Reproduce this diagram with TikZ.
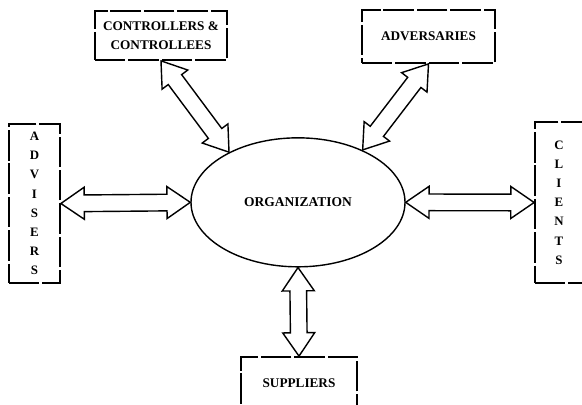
\documentclass[tikz,border=0pt]{standalone}
\usepackage{fontspec}
\setmainfont{Liberation Serif}
\usepackage{tikz}
\usetikzlibrary{shapes.geometric,calc}

% hollow two-headed arrow between two points
\newcommand{\hl}{0.70cm}
\newcommand{\hw}{0.48cm}
\newcommand{\sw}{0.25cm}
\newcommand{\twoway}[2]{%
  \draw[flowline] let \p1=($(#2)-(#1)$), \n1={atan2(\y1,\x1)}, \n2={veclen(\x1,\y1)} in
    [shift={(#1)}, rotate=\n1]
    (0,0) -- (\hl,\hw) -- (\hl,\sw) -- ({\n2*1pt-\hl},\sw) -- ({\n2*1pt-\hl},\hw)
    -- ({\n2*1pt},0) -- ({\n2*1pt-\hl},-\hw) -- ({\n2*1pt-\hl},-\sw)
    -- (\hl,-\sw) -- (\hl,-\hw) -- cycle;}

\tikzset{
  party/.style={draw, line width=1.5pt, dash pattern=on 26pt off 2.5pt,
    font=\bfseries\fontsize{11.3}{16}\selectfont, align=center, inner sep=0pt},
  upright/.style={party, font=\bfseries\fontsize{11}{16.4}\selectfont},
  flowline/.style={line width=1.2pt, line join=miter}
}

\begin{document}
\begin{tikzpicture}
  \useasboundingbox (0,0) rectangle (17.46,12.15);

  % Organization
  \node[draw, ellipse, line width=1.2pt, minimum width=6.42cm, minimum height=3.87cm,
    font=\bfseries\fontsize{11.5}{12}\selectfont] (org) at (8.94,6.08) {ORGANIZATION};

  % Surrounding parties
  \node[party, minimum width=3.96cm, minimum height=1.47cm] (ctrl) at (4.83,11.085)
    {CONTROLLERS \&\\CONTROLLEES};
  \node[party, minimum width=3.99cm, minimum height=1.59cm] (adv) at (12.855,11.055)
    {ADVERSARIES};
  \node[upright, minimum width=1.53cm, minimum height=4.77cm] (advs) at (1.035,6.045)
    {A\\D\\V\\I\\S\\E\\R\\S};
  \node[upright, minimum width=1.44cm, minimum height=4.83cm] (cli) at (16.77,6.075)
    {C\\L\\I\\E\\N\\T\\S};
  \node[party, minimum width=3.48cm, minimum height=1.56cm] (sup) at (8.97,0.66)
    {SUPPLIERS};

  % Two-way links
  \twoway{ctrl.south}{org.144}
  \twoway{adv.south}{org.39}
  \twoway{advs.east}{org.west}
  \twoway{org.east}{cli.west}
  \twoway{org.south}{sup.north}
\end{tikzpicture}
\end{document}
